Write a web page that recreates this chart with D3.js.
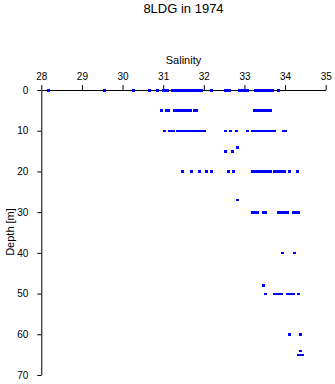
<!DOCTYPE html>
<html><head><meta charset="utf-8">
<script src="https://cdn.jsdelivr.net/npm/d3@7"></script>
<style>body{margin:0;background:#fff}svg{display:block;font-family:"Liberation Sans",Arial,sans-serif}</style>
</head><body>
<script>
const title = "8LDG in 1974";
const xLabel = "Salinity";
const yLabel = "Depth [m]";
const xTicks = [28, 29, 30, 31, 32, 33, 34, 35];
const yTicks = [0, 10, 20, 30, 40, 50, 60, 70];

const sal0 = [28.18, 29.56, 30.26, 30.66, 30.87, 31.0, 31.05, 31.1, 31.22, 31.27, 31.32, 31.37, 31.42, 31.47, 31.52, 31.57, 31.62, 31.67, 31.72, 31.77, 31.82, 31.87, 31.94, 32.19, 32.53, 32.58, 32.62, 32.89, 32.94, 33.0, 33.07, 33.26, 33.31, 33.36, 33.41, 33.46, 33.51, 33.56, 33.61, 33.68, 33.85];
const sal5 = [30.95, 31.08, 31.12, 31.27, 31.32, 31.37, 31.42, 31.47, 31.52, 31.57, 31.62, 31.66, 31.77, 31.81, 33.24, 33.29, 33.34, 33.39, 33.44, 33.49, 33.54, 33.59, 33.63];
const sal10 = [31.03, 31.15, 31.2, 31.25, 31.35, 31.4, 31.45, 31.5, 31.55, 31.6, 31.65, 31.7, 31.75, 31.8, 31.85, 31.9, 31.95, 32.01, 32.53, 32.66, 32.8, 33.07, 33.21, 33.26, 33.31, 33.36, 33.41, 33.46, 33.51, 33.56, 33.61, 33.66, 33.71, 33.75, 33.95, 34.0];
const sal14 = [32.82];
const sal15 = [32.54, 32.7];
const sal20 = [31.48, 31.7, 31.9, 32.06, 32.19, 32.6, 32.72, 33.19, 33.24, 33.29, 33.34, 33.39, 33.44, 33.49, 33.54, 33.59, 33.63, 33.75, 33.8, 33.85, 33.9, 33.94, 33.98, 34.11, 34.31];
const sal27 = [32.82];
const sal30 = [33.19, 33.24, 33.32, 33.46, 33.51, 33.83, 33.88, 33.93, 33.98, 34.06, 34.2, 34.25, 34.3, 34.34];
const sal40 = [33.94, 34.23];
const sal48 = [33.48];
const sal50 = [33.53, 33.75, 33.8, 33.85, 33.9, 34.07, 34.12, 34.16, 34.2, 34.34];
const sal60 = [34.12, 34.37];
const sal64 = [34.39];
const sal65 = [34.34, 34.39, 34.44];

const depths = [0, 5, 10, 14, 15, 20, 27, 30, 40, 48, 50, 60, 64, 65];
const salRows = [sal0, sal5, sal10, sal14, sal15, sal20, sal27, sal30, sal40, sal48, sal50, sal60, sal64, sal65];
const points = [];
depths.forEach((d, i) => salRows[i].forEach(s => points.push({s, d})));

const W = 335, H = 384;
const svg = d3.select("body").append("svg").attr("width", W).attr("height", H);
const x = d3.scaleLinear().domain([28, 35]).range([41.3, 325.7]);
const y = d3.scaleLinear().domain([0, 70]).range([90, 375]);

svg.append("text").attr("x", 183.5).attr("y", 12.5).attr("text-anchor", "middle")
  .attr("font-size", 13).text(title);
svg.append("text").attr("x", 183.5).attr("y", 64).attr("text-anchor", "middle")
  .attr("font-size", 11).text(xLabel);

const xAxis = svg.append("g").attr("transform", "translate(0,90)")
  .call(d3.axisTop(x).tickValues(xTicks).tickFormat(d3.format("d")).tickSize(5).tickSizeOuter(0).tickPadding(5));
const yAxis = svg.append("g").attr("transform", "translate(41.3,0)")
  .call(d3.axisLeft(y).tickValues(yTicks).tickFormat(d3.format("d")).tickSize(4).tickSizeOuter(0).tickPadding(9));
[xAxis, yAxis].forEach(g => {
  g.selectAll("text").attr("font-size", 10).attr("font-family", "Liberation Sans, Arial, sans-serif").attr("fill", "#000");
  g.selectAll("line,path").attr("stroke", "#000");
});

svg.append("text").attr("transform", "translate(14,232) rotate(-90)")
  .attr("text-anchor", "middle").attr("font-size", 11).text(yLabel);

svg.append("g").selectAll("rect").data(points).join("rect")
  .attr("x", p => x(p.s) - 1.5).attr("y", p => y(p.d) - 1)
  .attr("width", 3).attr("height", 2.5).attr("fill", "#0000ff")
  .attr("shape-rendering", "crispEdges");
</script>
</body></html>
